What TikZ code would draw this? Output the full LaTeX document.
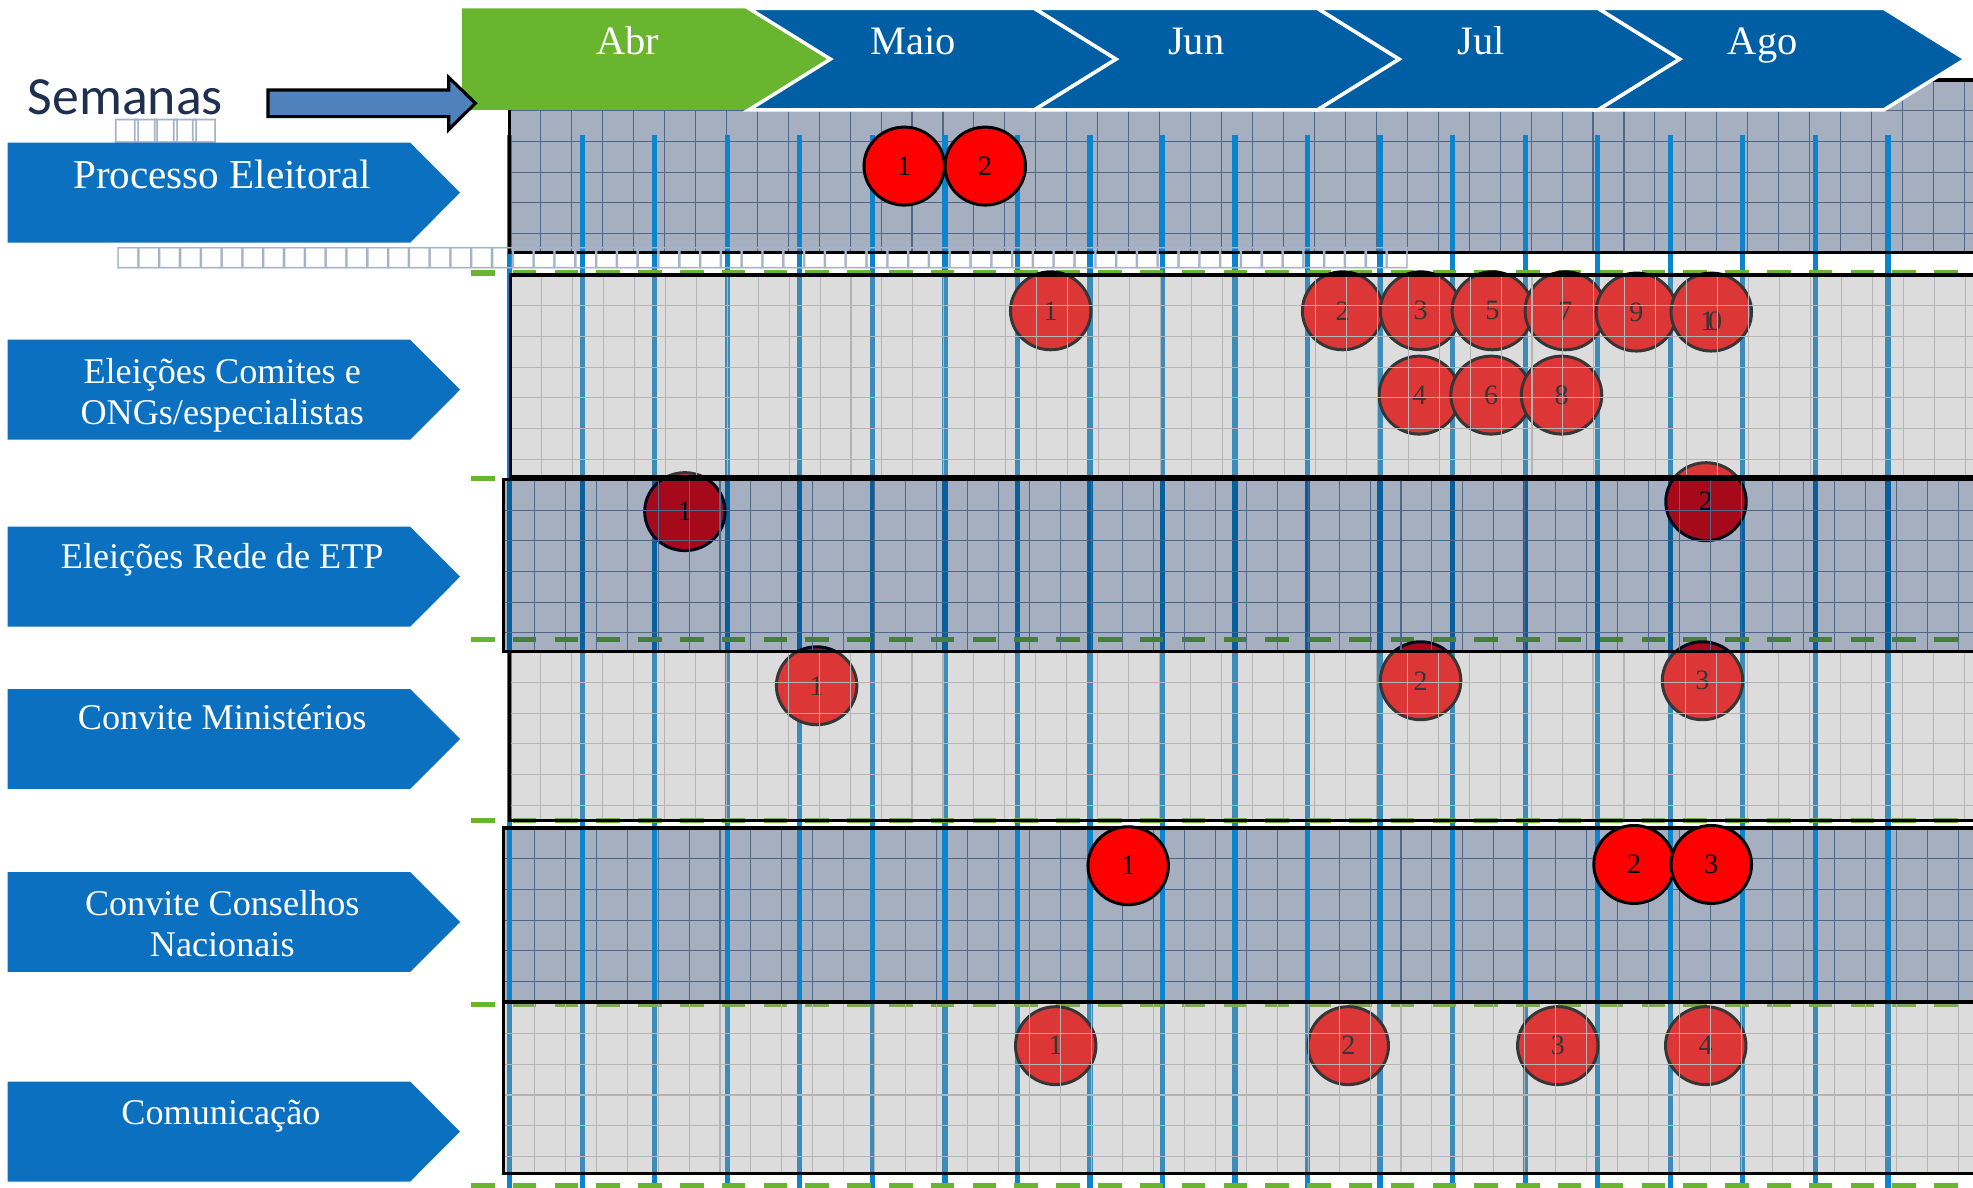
\documentclass[tikz,border=0pt]{standalone}
\usepackage{fontspec}
\setmainfont{Liberation Serif}
\newfontfamily\semfont{Carlito}
\newfontfamily\symfont{DejaVu Sans}
\usepackage{tikz}
\usetikzlibrary{shapes.geometric}

\definecolor{tagblue}{HTML}{0A70BF}
\definecolor{monthblue}{HTML}{005EA4}
\definecolor{abrgreen}{HTML}{69B52F}
\definecolor{weekblue}{HTML}{0A84CC}
\definecolor{bandgrey}{HTML}{A6AFBF}
\definecolor{darkveil}{HTML}{001A48}
\definecolor{lightveil}{HTML}{9B9B9B}
\definecolor{gridnavy}{HTML}{4F6788}
\definecolor{gridgrey}{HTML}{B4B4B4}
\definecolor{evred}{HTML}{FF0000}
\definecolor{arrowblue}{HTML}{4F81BD}
\definecolor{semnavy}{HTML}{1F2F4F}
\definecolor{tofugrey}{HTML}{A5B3CA}

\newcommand\tofus[2]{\foreach \i in {1,...,#1}{\makebox[#2]{□}}}

\begin{document}
\begin{tikzpicture}[
    x=0.012583cm, y=-0.012583cm,
    darkband/.style={fill=bandgrey},
    darkveilband/.style={fill=darkveil, fill opacity=0.35},
    lightband/.style={fill=lightveil, fill opacity=0.35},
    bandedge/.style={draw=black, line width=0.9pt},
    navygrid/.style={draw=gridnavy, line width=0.3pt},
    greygrid/.style={draw=gridgrey, line width=0.3pt},
    weekline/.style={draw=weekblue, line width=1.5pt},
    greendash/.style={draw=abrgreen, line width=1.5pt, dash pattern=on 6.7pt off 5.2pt},
    marco/.style={ellipse, draw=black, line width=0.85pt, fill=evred, minimum width=0.805cm, minimum height=0.78cm, inner sep=0pt, font=\fontsize{8}{8}\selectfont},
    chevron/.style={fill=monthblue, draw=white, line width=1pt},
    month/.style={text=white, font=\fontsize{11.5}{12}\selectfont, anchor=base},
    rowtag/.style={fill=tagblue},
    rowlabel/.style={text=white, font=\fontsize{10.3}{11.8}\selectfont, align=center},
    tofu/.style={text=tofugrey, font=\symfont\fontsize{8}{8}\selectfont, inner sep=0pt, anchor=west}
]
\useasboundingbox (0,0) rectangle (1568,944);
\clip (0,0) rectangle (1568,944);

% faixas opacas (Processo Eleitoral, Conselhos)
\fill[darkband] (405,63.6) rectangle (1580,200.8);
\fill[darkband] (400,658) rectangle (1580,796);
\foreach \xa/\ya/\yb in {405/63.6/200.8, 400/658/796}{
  \foreach \gi in {0,...,47} \draw[navygrid] ({\xa+24.6*\gi},\ya) -- ({\xa+24.6*\gi},\yb);
  \foreach \gj in {1,...,5} \draw[navygrid] (\xa,{\ya+24.4*\gj}) -- (1580,{\ya+24.4*\gj});
}

% semanas
\foreach \k in {0,...,19} \draw[weekline] ({405+57.65*\k},107) -- ({405+57.65*\k},950);
\foreach \gy in {217,380,508,652,798,942.6} \draw[greendash] (374.3,\gy) -- (1580,\gy);

% marcos sob as faixas
\node[marco] (ec1) at (835,247) {1};
\node[marco] (ec2) at (1067,247) {2};
\node[marco] (ec3) at (1129,247) {3};
\node[marco] (ec5) at (1186,247) {5};
\node[marco] (ec7) at (1244,247) {7};
\node[marco] (ec9) at (1300.5,248) {9};
\node[marco] (ec10) at (1360,248) {\raisebox{-2.7pt}[\height][\depth]{1\kern-0.22em 0}};
\node[marco] (ec4) at (1128,314) {4};
\node[marco] (ec6) at (1185,314) {6};
\node[marco] (ec8) at (1241,314) {8};
\node[marco] (re1) at (544.3,406.6) {1};
\node[marco] (re2) at (1355.8,398.7) {2};
\node[marco] (cm1) at (649,545) {1};
\node[marco] (cm2) at (1129,541) {2};
\node[marco] (cm3) at (1353,541) {3};
\node[marco] (co1) at (839,831) {1};
\node[marco] (co2) at (1071.5,831) {2};
\node[marco] (co3) at (1238,831) {3};
\node[marco] (co4) at (1355.6,831) {4};

% faixas transparentes
\fill[lightband] (405.7,218.5) rectangle (1580,378.8);
\fill[darkveilband] (400,381) rectangle (1580,518);
\fill[lightband] (405,518) rectangle (1580,652);
\fill[lightband] (400,797) rectangle (1580,932.5);
\foreach \xa/\ya/\yb/\gs in {405.7/218.5/378.8/greygrid, 400/381/518/navygrid, 405/518/652/greygrid, 400/797/932.5/greygrid}{
  \foreach \gi in {0,...,47} \draw[\gs] ({\xa+24.6*\gi},\ya) -- ({\xa+24.6*\gi},\yb);
  \foreach \gj in {1,...,6} \draw[\gs] (\xa,{min(\ya+24.4*\gj,\yb)}) -- (1580,{min(\ya+24.4*\gj,\yb)});
}
\draw[bandedge] (405,63.6) rectangle (1580,200.8);
\draw[bandedge] (405.7,218.5) rectangle (1580,378.8);
\draw[bandedge] (400,381) rectangle (1580,518);
\draw[bandedge] (405,518) rectangle (1580,652);
\draw[bandedge] (400,658) rectangle (1580,796);
\draw[bandedge] (400,797) rectangle (1580,932.5);

% marcos sobre as faixas
\node[marco] (pe1) at (718.6,132) {1};
\node[marco] (pe2) at (783,132) {2};
\node[marco] (cc1) at (896.6,688) {1};
\node[marco] (cc2) at (1298.6,687) {2};
\node[marco] (cc3) at (1360,687) {3};

% texto perdido
\node[tofu, font=\symfont\fontsize{9}{9}\selectfont] (tofusem) at (93,104) {\tofus{5}{5.5pt}};
\node[tofu] (tofulinha) at (93,205) {\tofus{62}{5.92pt}};

% meses
\fill[abrgreen] (367,6.6) -- (595,6.6) -- (660,47) -- (595,87.4) -- (367,87.4) -- cycle;
\foreach \ca/\cb in {595/822, 822/1047, 1047/1270, 1270/1497}
  \draw[chevron] (\ca,6.6) -- (\cb,6.6) -- (\cb+65,47) -- (\cb,87.4) -- (\ca,87.4) -- (\ca+65,47) -- cycle;
\node[month] (abr) at (499,43) {Abr};
\node[month] (maio) at (725.6,43) {Maio};
\node[month] (jun) at (950.6,43) {Jun};
\node[month] (jul) at (1177,43) {Jul};
\node[month] (ago) at (1400.8,43) {Ago};

% Semanas
\node[anchor=base west, inner sep=0pt, text=semnavy, font=\semfont\fontsize{15.3}{15.3}\selectfont] (semanas) at (21.5,91) {Semanas};
\draw[fill=arrowblue, draw=black, line width=0.9pt] (213,71.5) -- (356.6,71.5) -- (356.6,61.5) -- (377.8,82) -- (356.6,103) -- (356.6,92.7) -- (213,92.7) -- cycle;

% linhas de atividade
\foreach \t in {113.4,270,418.6,547.6,693,859.6}
  \fill[rowtag] (6,\t) -- (326,\t) -- (365.6,\t+39.7) -- (326,\t+79.4) -- (6,\t+79.4) -- cycle;
\node[rowlabel, anchor=base, font=\fontsize{11.7}{12}\selectfont] (processo) at (176.6,149.7) {Processo Eleitoral};
\node[rowlabel] (comites) at (176.6,314) {Eleições Comites e\\ONGs/especialistas};
\node[rowlabel, anchor=base] (rede) at (176.6,451.7) {Eleições Rede de ETP};
\node[rowlabel, anchor=base] (ministerios) at (176.6,579.4) {Convite Ministérios};
\node[rowlabel] (conselhos) at (176.6,734) {Convite Conselhos\\Nacionais};
\node[rowlabel, anchor=base] (comunicacao) at (175.6,893.5) {Comunicação};

\end{tikzpicture}
\end{document}
